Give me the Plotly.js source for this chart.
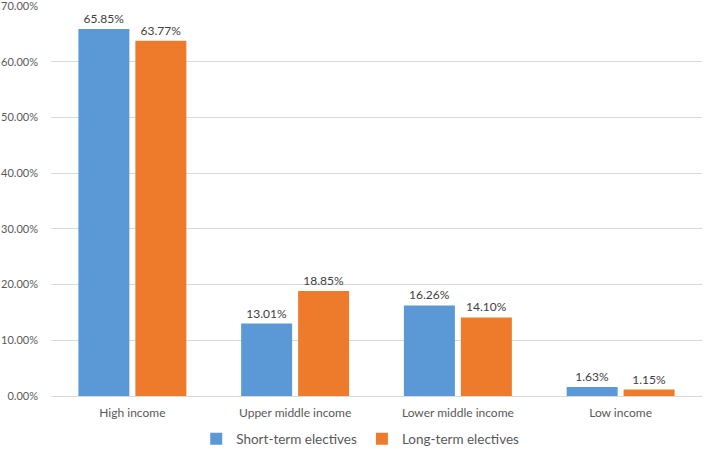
<!DOCTYPE html>
<html>
<head>
<meta charset="utf-8">
<script src="https://cdn.plot.ly/plotly-3.0.1.min.js"></script>
<style>html,body{margin:0;padding:0;background:#fff;}#chart{width:709px;height:450px;}</style>
</head>
<body>
<div id="chart"></div>
<script>
const categories = ["High income", "Upper middle income", "Lower middle income", "Low income"];
const shortTerm = [65.85, 13.01, 16.26, 1.63];
const longTerm = [63.77, 18.85, 14.10, 1.15];
const yTicks = [0, 10, 20, 30, 40, 50, 60, 70];

const font = "Lato, 'Open Sans', sans-serif";
const traces = [
  {
    type: "bar", name: "Short-term electives", x: categories, y: shortTerm,
    marker: {color: "#5a99d6"},
    text: shortTerm.map(v => v.toFixed(2) + "%"), textposition: "outside",
    textfont: {family: font, size: 12, color: "#404040"}, cliponaxis: false,
    hoverinfo: "skip"
  },
  {
    type: "bar", name: "Long-term electives", x: categories, y: longTerm,
    marker: {color: "#ee7b2c"},
    text: longTerm.map(v => v.toFixed(2) + "%"), textposition: "outside",
    textfont: {family: font, size: 12, color: "#404040"}, cliponaxis: false,
    hoverinfo: "skip"
  }
];
const layout = {
  width: 709, height: 450,
  margin: {l: 51, r: 7, t: 5, b: 54, autoexpand: false},
  paper_bgcolor: "#fff", plot_bgcolor: "#fff",
  barmode: "group", bargap: 0.30, bargroupgap: 0.105,
  font: {family: font, color: "#595959", size: 12},
  xaxis: {
    automargin: false,
    showgrid: false, showline: true, linecolor: "#d9d9d9", linewidth: 1,
    ticks: "", ticklabelstandoff: 6, tickfont: {family: font, size: 12, color: "#595959"}
  },
  yaxis: {
    automargin: false,
    range: [0, 70.18], tickvals: yTicks, ticktext: yTicks.map(v => v.toFixed(2) + "%"),
    showgrid: true, gridcolor: "#d9d9d9", gridwidth: 1, zeroline: false,
    showline: false, ticks: "", ticklabelstandoff: 12, ticklabeloverflow: "allow",
    tickfont: {family: font, size: 11, color: "#595959"}
  },
  showlegend: true,
  legend: {
    orientation: "h", x: 0.475, xanchor: "center", y: -0.07, yanchor: "top",
    font: {family: font, size: 13.5, color: "#595959"}, itemwidth: 30, traceorder: "normal"
  }
};
Plotly.newPlot("chart", traces, layout, {displayModeBar: false, staticPlot: true});
</script>
</body>
</html>
